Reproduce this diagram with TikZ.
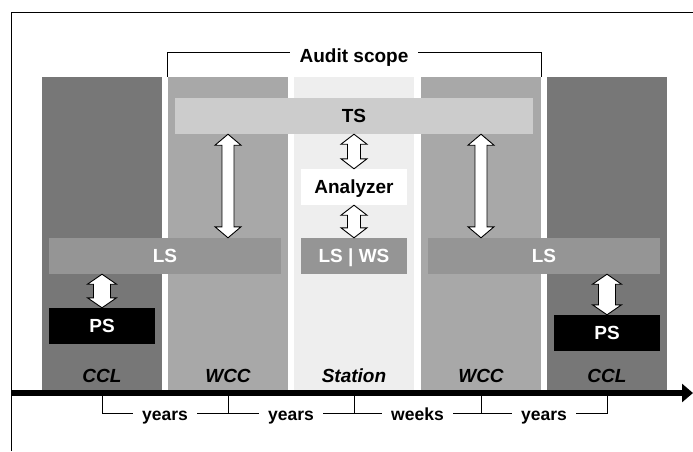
\documentclass[tikz,border=0pt]{standalone}
\usepackage{fontspec}
\setmainfont{Liberation Sans}
\usetikzlibrary{calc,arrows.meta}
\definecolor{cclgray}{HTML}{777777}
\definecolor{wccgray}{HTML}{A8A8A8}
\definecolor{stgray}{HTML}{EEEEEE}
\definecolor{tsgray}{HTML}{CCCCCC}
\definecolor{lsgray}{HTML}{959595}
\begin{document}
\begin{tikzpicture}[x=1pt,y=-1pt,
  col/.style={draw=none,minimum width=120pt,minimum height=316pt,inner sep=0pt},
  boxnode/.style={draw=none,inner sep=0pt,minimum height=36pt,text height=13.6pt,text depth=0pt,
    font=\fontsize{19}{22}\selectfont\bfseries},
  collbl/.style={inner sep=0pt,text height=13.6pt,text depth=0pt,font=\fontsize{19}{22}\selectfont\bfseries\itshape},
  tllbl/.style={font=\fontsize{17.5}{20}\selectfont\bfseries,fill=white,inner xsep=9pt,inner ysep=2pt,text height=9pt,text depth=0pt},
  dbl/.style n args={3}{fill=white,draw=black,line width=0.9pt,line join=miter,
    to path={let \p1=(\tikztostart), \p2=(\tikztotarget) in
      (\x1,\y1) -- (\x1+#2,\y1-#3) -- (\x1+#1,\y1-#3) -- (\x1+#1,\y2+#3) -- (\x1+#2,\y2+#3)
      -- (\x1,\y2) -- (\x1-#2,\y2+#3) -- (\x1-#1,\y2+#3) -- (\x1-#1,\y1-#3) -- (\x1-#2,\y1-#3) -- cycle}},
  bigarrow/.style={dbl={6pt}{13pt}{11pt}},
  smallarrow/.style={dbl={6.5pt}{13pt}{10pt}},
  fatarrow/.style={dbl={8.5pt}{14.5pt}{10pt}}
]
\useasboundingbox[fill=white] (0,0) rectangle (693,451);
% frame
\draw[line width=0.9pt] (11,451) -- (11,12) -- (693,12);
% columns
\node[col,fill=cclgray] (ccl1) at (102,235) {};
\node[col,fill=wccgray] (wcc1) at (228,235) {};
\node[col,fill=stgray] (st) at (354,235) {};
\node[col,fill=wccgray] (wcc2) at (481,235) {};
\node[col,fill=cclgray] (ccl2) at (607,235) {};
% audit scope bracket
\draw[line width=1.3pt] (wcc1.north west) -- ++(0,-24) coordinate (bl) -| (wcc2.north east);
\node[fill=white,inner xsep=10pt,inner ysep=2pt,text height=13.6pt,text depth=0pt,
  font=\fontsize{19}{22}\selectfont\bfseries] (audit) at (354,56) {Audit scope};
% boxes
\node[boxnode,fill=tsgray,minimum width=358pt] (ts) at (354,116) {TS};
\node[boxnode,fill=white,minimum width=106pt] (an) at (354,187) {Analyzer};
\node[boxnode,fill=lsgray,text=white,minimum width=232pt] (lsl) at (165,256) {LS};
\node[boxnode,fill=lsgray,text=white,minimum width=106pt] (lsws) at (354,256) {LS | WS};
\node[boxnode,fill=lsgray,text=white,minimum width=232pt] (lsr) at (544,256) {LS};
\node[boxnode,fill=black,text=white,minimum width=106pt] (psl) at (102,326) {PS};
\node[boxnode,fill=black,text=white,minimum width=106pt] (psr) at (607,333) {PS};
% arrows
\draw[bigarrow] (ts.south -| wcc1.center) to (lsl.north -| wcc1.center);
\draw[bigarrow] (ts.south -| wcc2.center) to (lsr.north -| wcc2.center);
\draw[smallarrow] (ts.south) to (an.north);
\draw[smallarrow] (an.south) to (lsws.north);
\draw[fatarrow] (lsl.south -| psl.center) to (psl.north);
\draw[fatarrow] (lsr.south -| psr.center) to (psr.north);
% column labels
\node[collbl] (l1) at (102,376) {CCL};
\node[collbl] (l2) at (228,376) {WCC};
\node[collbl] (l3) at (354,376) {Station};
\node[collbl] (l4) at (481,376) {WCC};
\node[collbl] (l5) at (607,376) {CCL};
% axis
\coordinate (ax0) at (11,393);
\coordinate (ax1) at (693,393);
\draw[line width=6pt,-{Triangle[length=11pt,width=18pt]}] (ax0) -- (ax1);
% timeline brackets
\coordinate (t1) at (102,396);
\coordinate (t2) at (228,396);
\coordinate (t3) at (354,396);
\coordinate (t4) at (481,396);
\coordinate (t5) at (607,396);
\draw[line width=1pt] (t1) -- ++(0,17) -| (t5);
\draw[line width=1pt] (t2) -- ++(0,17);
\draw[line width=1pt] (t3) -- ++(0,17);
\draw[line width=1pt] (t4) -- ++(0,17);
\node[tllbl] (y1) at (165,416) {years};
\node[tllbl] (y2) at (291,416) {years};
\node[tllbl] (w1) at (417.5,416) {weeks};
\node[tllbl] (y3) at (544,416) {years};
\end{tikzpicture}
\end{document}
